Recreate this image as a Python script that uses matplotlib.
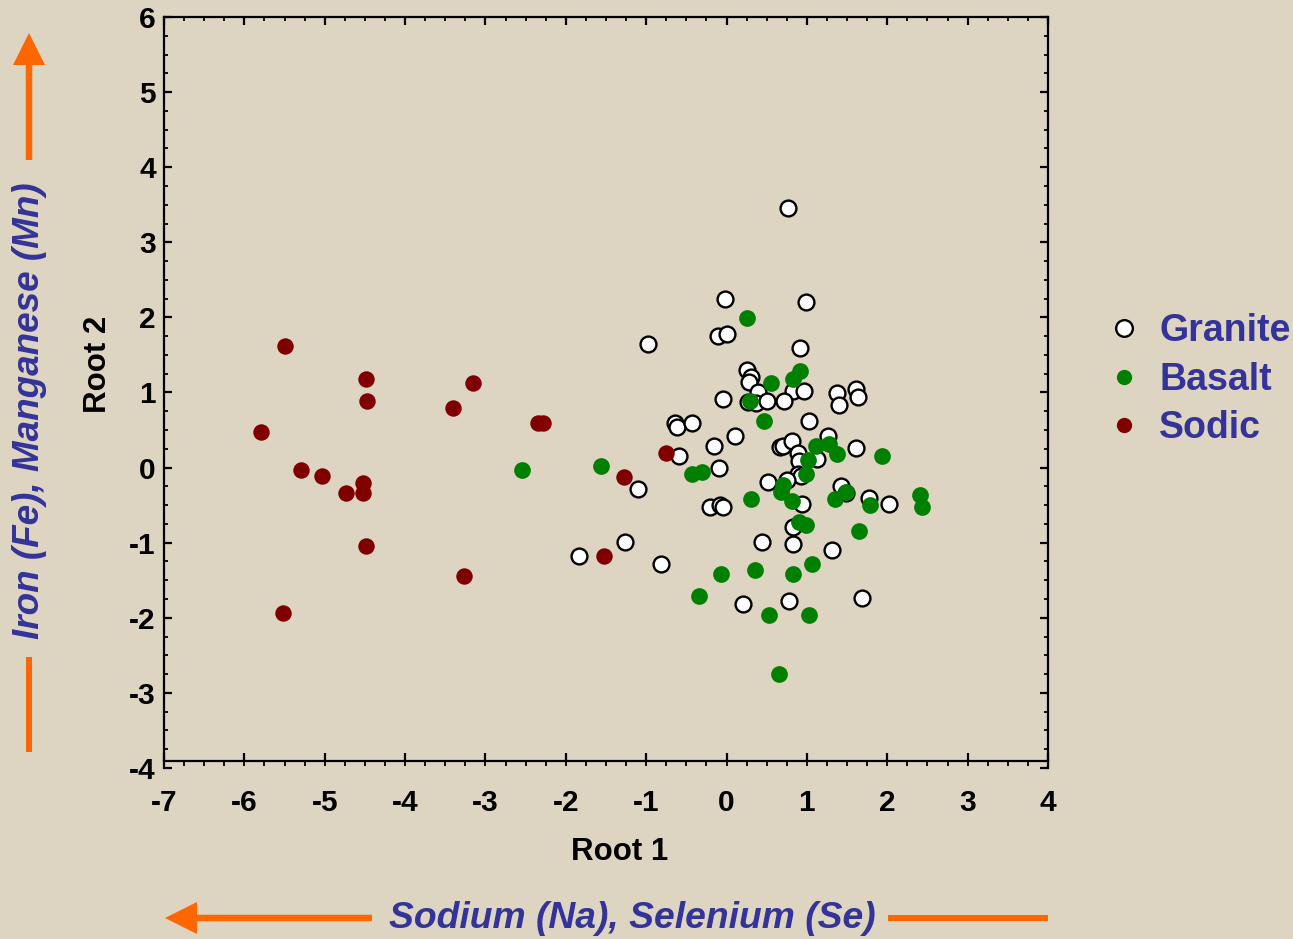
import matplotlib
matplotlib.use("Agg")
import matplotlib.pyplot as plt
from matplotlib.ticker import MultipleLocator, NullLocator
from matplotlib.patches import FancyArrow
from matplotlib.lines import Line2D
from matplotlib.transforms import IdentityTransform

plt.rcParams['font.family'] = ['Liberation Sans', 'DejaVu Sans']
plt.rcParams['axes.unicode_minus'] = False

# Discriminant scores (Root 1, Root 2) for each rock group
granite_r1 = [0.76, -0.02, 0.99, -0.11, 0.00, -0.98, 0.91, 0.26, 0.30, 0.28, 0.39, 0.27,
              0.37, 0.50, -0.05, 0.83, 0.96, 0.71, 1.38, 1.40, 1.61, 1.63, 1.03, -0.64,
              -0.62, -0.43, 0.11, 0.67, 0.70, 0.81, 0.89, 0.90, 1.13, 1.26, 1.61, 0.89,
              0.93, -0.16, -0.59, -0.09, 0.51, 0.75, 0.94, 1.42, 1.49, 1.77, 2.02, 0.83,
              0.44, 0.83, 1.31, 0.21, 0.78, 1.68, -1.10, -0.21, -0.08, -0.04, -1.26,
              -1.83, -0.82]
granite_r2 = [3.46, 2.25, 2.20, 1.75, 1.78, 1.65, 1.59, 1.30, 1.20, 1.14, 1.00, 0.87,
              0.86, 0.89, 0.91, 1.02, 1.02, 0.89, 0.99, 0.83, 1.05, 0.94, 0.62, 0.60,
              0.54, 0.60, 0.42, 0.28, 0.29, 0.35, 0.19, 0.09, 0.12, 0.42, 0.26, -0.08,
              -0.11, 0.29, 0.15, 0.00, -0.19, -0.17, -0.48, -0.25, -0.34, -0.40, -0.48, -0.79,
              -0.99, -1.02, -1.10, -1.81, -1.78, -1.73, -0.29, -0.52, -0.50, -0.53, -0.99,
              -1.18, -1.28]

basalt_r1 = [0.26, 0.55, 0.83, 0.92, 0.29, 0.46, 1.11, 1.28, 1.37, 1.01, 0.99, 1.93,
             0.70, 0.68, 0.30, 0.81, 1.35, 1.49, 1.79, 2.41, 2.43, 0.90, 0.99, 1.65,
             1.06, 0.35, 0.83, 0.53, 1.03, 0.65, -1.56, -0.43, -0.30, -0.07, -0.34, -2.54]
basalt_r2 = [1.99, 1.12, 1.18, 1.28, 0.89, 0.62, 0.29, 0.31, 0.18, 0.10, -0.09, 0.15,
             -0.23, -0.32, -0.42, -0.44, -0.42, -0.32, -0.50, -0.36, -0.53, -0.73, -0.76, -0.84,
             -1.29, -1.36, -1.42, -1.96, -1.96, -2.75, 0.02, -0.09, -0.06, -1.42, -1.71, -0.03]

sodic_r1 = [-5.49, -4.49, -4.47, -3.16, -3.41, -2.34, -2.29, -5.79, -5.29, -5.04, -4.52,
            -4.74, -4.52, -4.49, -3.27, -5.52, -0.75, -1.28, -1.53]
sodic_r2 = [1.62, 1.18, 0.89, 1.12, 0.80, 0.60, 0.60, 0.47, -0.03, -0.11, -0.21,
            -0.34, -0.34, -1.05, -1.44, -1.94, 0.20, -0.13, -1.18]

group_names = ["Granite", "Basalt", "Sodic"]
x_ticks = list(range(-7, 5))
y_ticks = list(range(-4, 7))

BG = "#DDD5C1"
BLUE = "#333399"
ORANGE = "#FF6600"
GREEN = "#008000"
DARKRED = "#800000"

W, H = 1293, 939
fig = plt.figure(figsize=(W / 100, H / 100), dpi=100, facecolor=BG)
ax = fig.add_axes([164 / W, 1 - 768 / H, (1048 - 164) / W, (768 - 17) / H])
ax.set_facecolor(BG)

ax.scatter(granite_r1, granite_r2, s=130, facecolor="white", edgecolor="black",
           linewidth=1.7, zorder=3)
ax.scatter(basalt_r1, basalt_r2, s=145, color=GREEN, linewidth=0, zorder=4)
ax.scatter(sodic_r1, sodic_r2, s=140, color=DARKRED, linewidth=0, zorder=5)

ax.set_xlim(-7, 4)
ax.set_ylim(-4, 6)
ax.set_xticks(x_ticks)
ax.set_yticks(y_ticks)
ax.xaxis.set_minor_locator(MultipleLocator(0.25))
ax.yaxis.set_minor_locator(MultipleLocator(0.25))
ax.xaxis.remove_overlapping_locs = False

for sp in ax.spines.values():
    sp.set_linewidth(1.6)
ax.spines['bottom'].set_position(('outward', -5))

ax.tick_params(axis='both', which='major', direction='in', length=6, width=1.6,
               labelsize=21.5)
ax.tick_params(axis='y', which='both', direction='in', left=True, right=True)
ax.tick_params(axis='y', which='minor', length=3, width=1.3)
ax.tick_params(axis='y', which='major', pad=6)
ax.tick_params(axis='x', which='major', top=True, bottom=True, pad=20)
ax.tick_params(axis='x', which='minor', direction='out', top=False, bottom=True,
               length=3.5, width=1.3)
for lbl in ax.get_xticklabels() + ax.get_yticklabels():
    lbl.set_fontweight('bold')

# inward minor ticks along the top edge
top = ax.secondary_xaxis('top')
top.xaxis.set_major_locator(NullLocator())
top.xaxis.set_minor_locator(MultipleLocator(0.25))
top.tick_params(which='minor', direction='in', length=3, width=1.3)
top.spines['top'].set_visible(False)

fig.text(620 / W, 1 - 852 / H, "Root 1", ha='center', va='center',
         fontsize=22.5, fontweight='bold')
fig.text(98 / W, 1 - 364 / H, "Root 2", ha='center', va='center', rotation=90,
         fontsize=22.5, fontweight='bold')

# legend
handles = [
    Line2D([], [], linestyle='none', marker='o', markersize=12, markerfacecolor='white',
           markeredgecolor='black', markeredgewidth=1.7),
    Line2D([], [], linestyle='none', marker='o', markersize=11, markerfacecolor=GREEN,
           markeredgewidth=0),
    Line2D([], [], linestyle='none', marker='o', markersize=11, markerfacecolor=DARKRED,
           markeredgewidth=0),
]
leg = fig.legend(handles, group_names, loc='upper left',
                 bbox_to_anchor=(1101 / W, 1 - 313 / H), frameon=False,
                 prop={'size': 27, 'weight': 'bold'}, handletextpad=0.35,
                 labelspacing=0.34, handlelength=1.2, borderaxespad=0, borderpad=0)
for t in leg.get_texts():
    t.set_color(BLUE)

# direction annotations with arrows
fig.text(632 / W, 1 - 919 / H, "Sodium (Na), Selenium (Se)", ha='center', va='center',
         fontsize=26.8, fontweight='bold', fontstyle='italic', color=BLUE)
fig.text(30 / W, 1 - 411 / H, "Iron (Fe), Manganese (Mn)", ha='center', va='center',
         rotation=90, fontsize=26.6, fontweight='bold', fontstyle='italic', color=BLUE)

pix = IdentityTransform()
arrow_kw = dict(width=6.5, head_width=32, head_length=32, length_includes_head=True,
                color=ORANGE, linewidth=0, transform=pix)
# horizontal pointer (to the left) and trailing bar
fig.add_artist(FancyArrow(372, H - 918, 165 - 372, 0, **arrow_kw))
fig.add_artist(FancyArrow(888, H - 918, 1048 - 888, 0, width=6.5, head_width=0,
                          head_length=0, color=ORANGE, linewidth=0, transform=pix))
# vertical pointer (upward) and trailing bar
fig.add_artist(FancyArrow(29, H - 160, 0, 160 - 33, **arrow_kw))
fig.add_artist(FancyArrow(29, H - 752, 0, 752 - 657, width=6.5, head_width=0,
                          head_length=0, color=ORANGE, linewidth=0, transform=pix))

fig.savefig("out.png", dpi=100, facecolor=BG)
